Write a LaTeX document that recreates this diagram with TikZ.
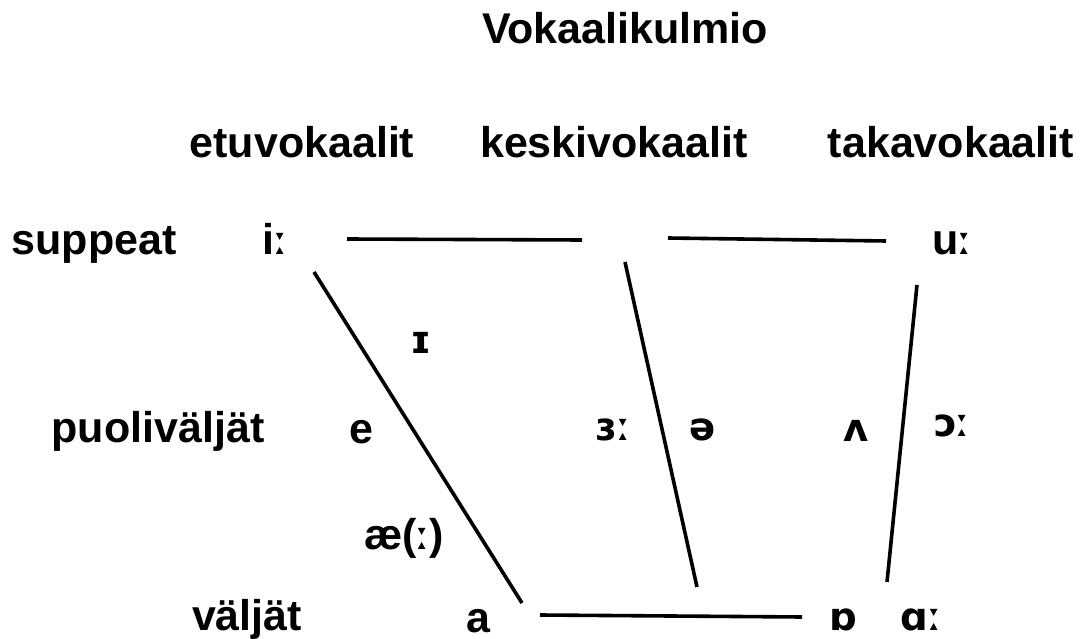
\documentclass[tikz,border=0pt]{standalone}
\usepackage{fontspec}
\setmainfont{Liberation Sans}
\newfontfamily\ipafont{DejaVu Sans Bold}[Scale=0.9]
\newcommand{\lng}{{\ipafont ː}}
\begin{document}
\begin{tikzpicture}[x=1pt,y=-1pt,
  lbl/.style={font=\fontsize{43}{50}\selectfont\bfseries, inner sep=0pt, anchor=base},
  ipa/.style={font=\fontsize{43}{50}\selectfont\ipafont, inner sep=0pt, anchor=base},
  edge/.style={line width=3.6pt}]
\useasboundingbox (0,0) rectangle (1085,639);
\node[lbl] (title) at (625,44) {Vokaalikulmio};
\node[lbl] (front) at (302,158) {etuvokaalit};
\node[lbl] (central) at (614,158) {keskivokaalit};
\node[lbl] (back) at (951,158) {takavokaalit};
\node[lbl] (close) at (94,255) {suppeat};
\node[lbl] (mid) at (158,442) {puoliväljät};
\node[lbl] (open) at (247,630) {väljät};
\node[lbl] (ii) at (275,255) {i\lng};
\node[lbl] (uu) at (952,255) {u\lng};
\node[ipa] (I) at (421,353) {ɪ};
\node[lbl] (e) at (361,443) {e};
\node[ipa] (er) at (613,440) {ɜ\lng};
\node[ipa] (schwa) at (703,440) {ə};
\node[ipa] (wedge) at (856,441) {ʌ};
\node[ipa] (oo) at (952,436) {ɔ\lng};
\node[lbl] (ae) at (404,549) {æ(\lng)};
\node[lbl] (a) at (478,632) {a};
\node[ipa] (o) at (843,630) {ɒ};
\node[ipa] (aa) at (921,630) {ɑ\lng};
\coordinate (t1a) at (347,239); \coordinate (t1b) at (582,240);
\coordinate (t2a) at (668,238); \coordinate (t2b) at (886,241);
\coordinate (l1a) at (314,272); \coordinate (l1b) at (522,603);
\coordinate (l2a) at (625,262); \coordinate (l2b) at (697,587);
\coordinate (l3a) at (917,285); \coordinate (l3b) at (887,582);
\coordinate (b1a) at (540,615); \coordinate (b1b) at (802,617);
\draw[edge] (t1a) -- (t1b);
\draw[edge] (t2a) -- (t2b);
\draw[edge] (l1a) -- (l1b);
\draw[edge] (l2a) -- (l2b);
\draw[edge] (l3a) -- (l3b);
\draw[edge] (b1a) -- (b1b);
\end{tikzpicture}
\end{document}
